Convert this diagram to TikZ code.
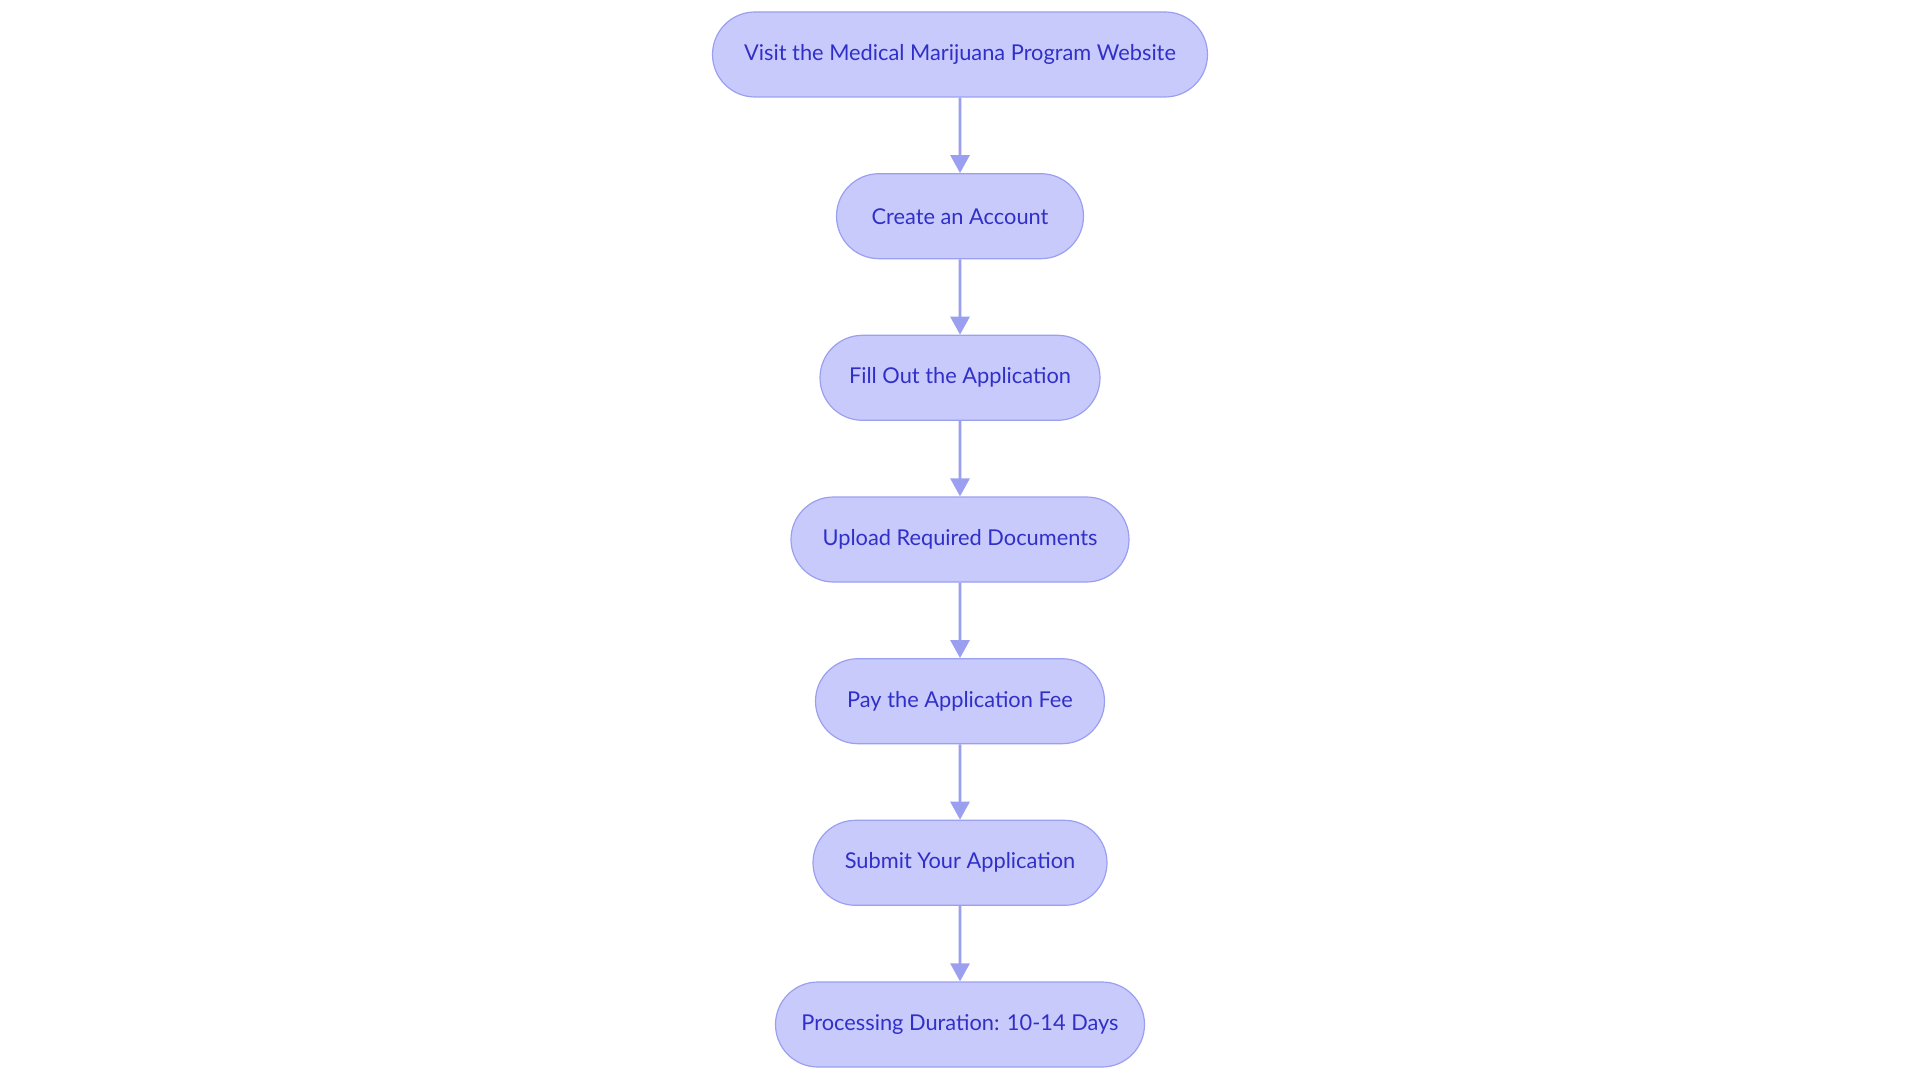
\documentclass[tikz,border=0pt]{standalone}
\usepackage{fontspec}
\setmainfont{Lato}
\usetikzlibrary{arrows.meta,shapes.misc}
\definecolor{nodefill}{HTML}{C9CAFC}
\definecolor{nodeline}{HTML}{9A9FF0}
\definecolor{nodetext}{HTML}{3030C8}
\tikzset{
  stepbox/.style={draw=nodeline, line width=1.2pt, fill=nodefill, rounded rectangle,
    minimum height=85pt, text=nodetext, font=\fontsize{21.8pt}{24pt}\selectfont, inner xsep=0pt},
  flow/.style={draw=nodeline, line width=2.8pt, -{Triangle[length=18pt,width=19pt]}}
}
\begin{document}
\begin{tikzpicture}[x=1pt,y=-1pt]
\useasboundingbox (0,0) rectangle (1920,1083);
\node[stepbox, minimum width=495pt] (a) at (960,54.5) {Visit the Medical Marijuana Program Website};
\node[stepbox, minimum width=247pt] (b) at (960,216.2) {Create an Account};
\node[stepbox, minimum width=280pt] (c) at (960,377.8) {Fill Out the Application};
\node[stepbox, minimum width=338pt] (d) at (960,539.5) {Upload Required Documents};
\node[stepbox, minimum width=289pt] (e) at (960,701.2) {Pay the Application Fee};
\node[stepbox, minimum width=294pt] (f) at (960,862.8) {Submit Your Application};
\node[stepbox, minimum width=369pt] (g) at (960,1024.5) {Processing Duration: 10-14 Days};
\draw[flow] (a) -- (b);
\draw[flow] (b) -- (c);
\draw[flow] (c) -- (d);
\draw[flow] (d) -- (e);
\draw[flow] (e) -- (f);
\draw[flow] (f) -- (g);
\end{tikzpicture}
\end{document}
